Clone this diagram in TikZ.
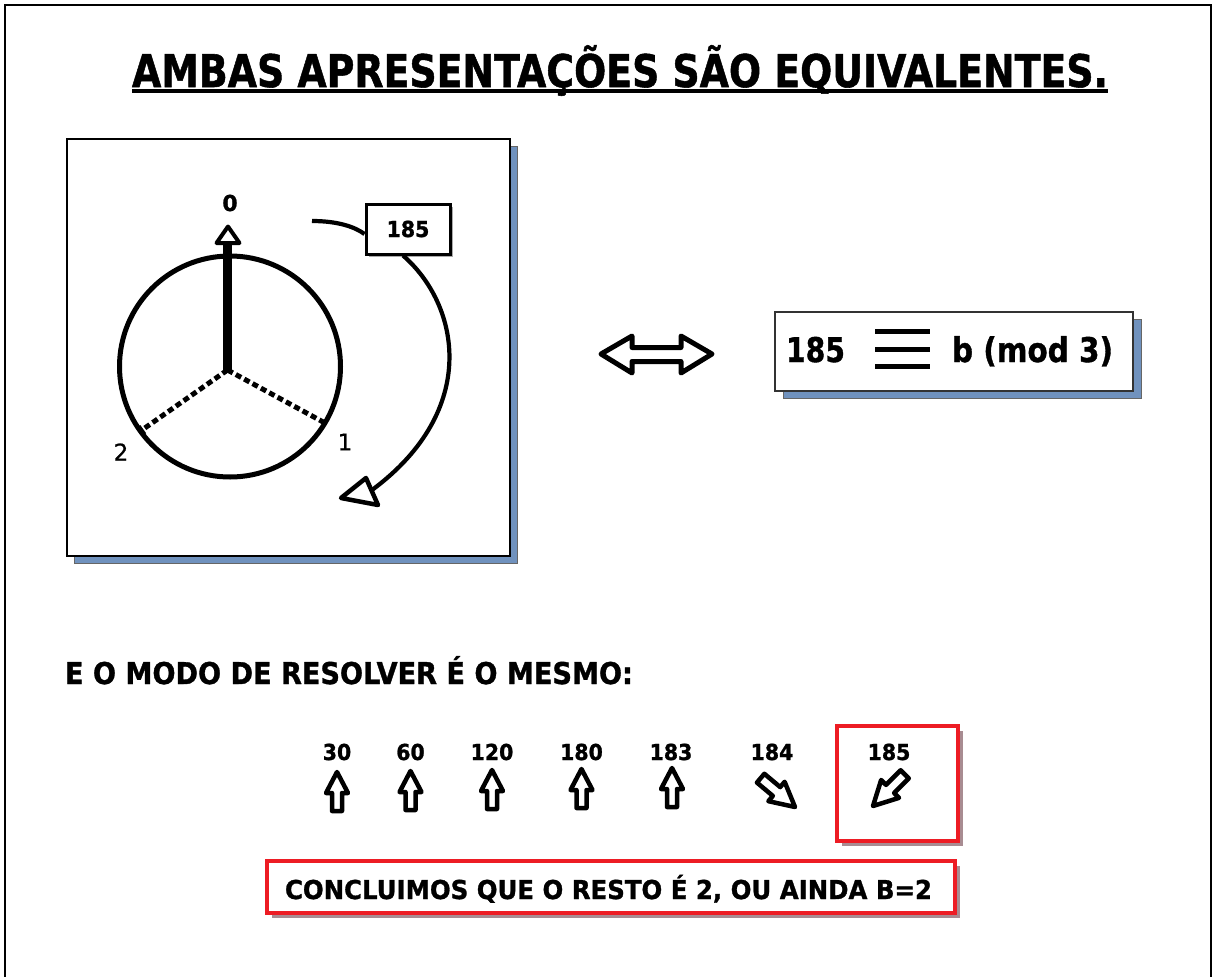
\documentclass[tikz,border=0pt]{standalone}
\usepackage{fontspec}
\setmainfont{DejaVu Sans}
\newfontface\hb{DejaVu Sans Bold}[FakeBold=1.2]
\newfontface\hr{DejaVu Sans}[FakeBold=0.8]
\usepackage{graphicx}
\usetikzlibrary{shadows,calc}
\definecolor{shadowblue}{RGB}{112,146,190}
\definecolor{boxred}{RGB}{237,28,36}
\definecolor{redshadow}{RGB}{168,140,146}
\definecolor{lightshadow}{RGB}{170,170,170}
\newcommand\tx[3]{\resizebox{#1pt}{\height}{\fontsize{#2pt}{#2pt}\hb #3}}
\newcommand\dg[2]{\scalebox{0.93}[1]{\fontsize{#1pt}{#1pt}\hb #2}}
\begin{document}
\begin{tikzpicture}[x=1pt,y=-1pt,
  txt/.style={inner sep=0pt, outer sep=0pt},
  panel/.style={draw=black, line width=1.5pt, fill=white, inner sep=0pt},
  blueshadow/.style={drop shadow={shadow xshift=8pt, shadow yshift=-7.5pt, fill=shadowblue, draw=black!60, line width=1pt, opacity=1}},
  redbox/.style={draw=boxred, line width=4.5pt, fill=white, inner sep=0pt,
     drop shadow={shadow xshift=5pt, shadow yshift=-5pt, fill=redshadow, opacity=1}},
  openshape/.style={draw=black, line width=4.5pt, fill=white, line join=round},
  curve/.style={draw=black, line width=4.2pt},
]
\useasboundingbox (0,0) rectangle (1213,977);
\fill[white] (0,0) rectangle (1213,977);
\draw[line width=1.5pt] (5,977) -- (5,5) -- (1211,5) -- (1211,977);

% title
\node[txt, anchor=base west] (title) at (132,87)
  {\tx{976}{45}{AMBAS APRESENTAÇÕES SÃO EQUIVALENTES.}};
\draw[line width=3.5pt] ([yshift=-4pt]title.base west) -- ([yshift=-4pt]title.base east);

% left panel
\node[panel, blueshadow, anchor=north west, minimum width=443pt, minimum height=417pt] (leftpanel) at (66,138) {};

\node[circle, draw, line width=5pt, minimum size=221pt, inner sep=0pt] (dial) at (230,366.5) {};
\coordinate (hub) at (227.5,370);
\coordinate (tip1) at (325,423);
\coordinate (tip2) at (142,430);
\coordinate (head0) at (227.5,243);
\draw[line width=5pt, dash pattern=on 6pt off 3.5pt] (hub) -- (tip1);
\draw[line width=5pt, dash pattern=on 6pt off 3.5pt] (hub) -- (tip2);
\draw[line width=3pt] (322.6,427.4) -- (327.4,418.6);
\draw[line width=3pt] (144.9,434.1) -- (139.1,425.9);
\draw[line width=8.5pt] (hub) -- (head0);
\draw[draw=black, line width=4pt, fill=white, line join=round] (228,226.5) -- (239.5,243) -- (216.5,243) -- cycle;

\node[txt] (l0) at (230,203) {\fontsize{22pt}{22pt}\hb 0};
\node[txt] (l1) at (345,442) {\fontsize{23pt}{23pt}\hr 1};
\node[txt] (l2) at (121,452) {\fontsize{23pt}{23pt}\hr 2};

\node[draw, line width=3pt, fill=white, inner sep=0pt, minimum width=84pt, minimum height=50pt,
  drop shadow={shadow xshift=3pt, shadow yshift=-3pt, fill=lightshadow, opacity=1}] (cnt) at (408,229)
  {\dg{22}{185}};
\coordinate (cstart) at (312,221);
\coordinate (hb) at (372,490);
\draw[curve] (cstart) .. controls (338,221) and (355,227) .. ([yshift=-5pt]cnt.west);
\draw[curve] ([xshift=-5pt]cnt.south) .. controls (460,305) and (480,410) .. (hb);
\draw[openshape] (341,498) -- (366,478) -- (378,505) -- cycle;

% double arrow
\draw[openshape, line width=5pt] (601,354) -- (632,336) -- (632,347.5) -- (681,347.5) -- (681,336) -- (712,354)
  -- (681,373) -- (681,361.5) -- (632,361.5) -- (632,373) -- cycle;

% equivalence box
\node[draw=black!80, line width=1.5pt, fill=white, inner sep=0pt, minimum width=358pt, minimum height=79pt,
  blueshadow] (eqbox) at (954,351.5) {};
\node[txt, anchor=base west] (n185) at (786,362) {\tx{59}{34}{185}};
\draw[line width=4.7pt] (875,331.5) -- (930,331.5);
\draw[line width=4.7pt] (875,349.5) -- (930,349.5);
\draw[line width=4.7pt] (875,366.5) -- (930,366.5);
\node[txt, anchor=base west] (bmod) at (952,362) {\tx{161}{34}{b (mod 3)}};

% bottom
\node[txt, anchor=base west] (modo) at (65,684) {\tx{568}{30}{E O MODO DE RESOLVER É O MESMO:}};

\node[redbox, minimum width=121pt, minimum height=115pt] (rbox) at (897.5,783.5) {};
\node[redbox, minimum width=688pt, minimum height=52pt] (concl) at (611,887) {};
\node[txt, anchor=base west] (concltext) at (285,899) {\tx{647}{26}{CONCLUIMOS QUE O RESTO É 2, OU AINDA B=2}};

\foreach \nm/\x/\v in {a/337/30, b/410.5/60, c/492/120, d/581.5/180, e/671/183, f/772/184, g/889/185}
  \node[txt, anchor=base] (num\nm) at (\x,760) {\dg{22}{\v}};

\newcommand\uparr[4]{\draw[draw=black, line width=4.5pt, fill=white, line join=round, shift={(#1,#2)}, rotate=#3, scale=#4]
  (0,0) -- (11,21) -- (5,21) -- (5,39) -- (-5,39) -- (-5,21) -- (-11,21) -- cycle;}
\uparr{337}{772}{0}{1}
\uparr{410.5}{771}{0}{1}
\uparr{492}{770}{0}{1}
\uparr{581.5}{769}{0}{1}
\uparr{672}{768}{0}{1}
\uparr{795}{807}{-130}{1.15}
\uparr{873}{806}{135}{1.15}
\end{tikzpicture}
\end{document}
